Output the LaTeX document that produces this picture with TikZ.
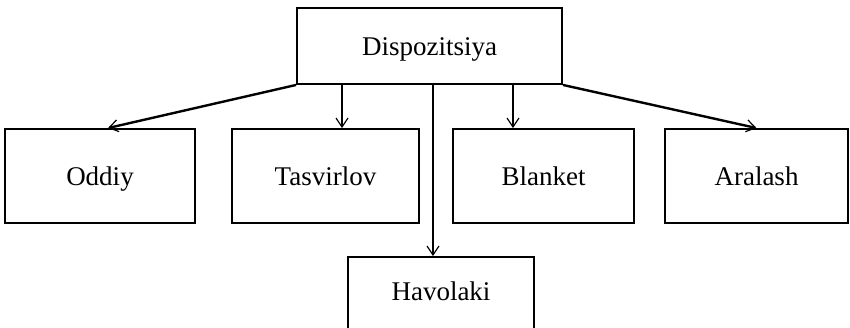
\documentclass[tikz,border=0pt]{standalone}
\usepackage{fontspec}
\setmainfont{Liberation Serif}
\usetikzlibrary{arrows.meta,calc}
\tikzset{
  box/.style={draw, line width=1.9pt, rectangle, inner sep=0pt, text height=20pt, text depth=2pt, font=\fontsize{27}{31}\selectfont},
  arr/.style={-{Straight Barb[length=9pt,width=12pt,line width=1.2pt]}},
  thinln/.style={line width=1.6pt},
  thickln/.style={line width=2.4pt}
}
\begin{document}
\begin{tikzpicture}[x=1pt,y=-1pt]
\useasboundingbox (0,0) rectangle (850,327);
\clip (0,0) rectangle (850,327);
\node[box, minimum width=265pt, minimum height=76pt] (top) at (429.5,46) {Dispozitsiya};
\node[box, minimum width=190pt, minimum height=94pt] (oddiy) at (100,176) {Oddiy};
\node[box, minimum width=187pt, minimum height=94pt] (tasv) at (325.5,176) {Tasvirlov};
\node[box, minimum width=181pt, minimum height=94pt] (blank) at (543.5,176) {Blanket};
\node[box, minimum width=183pt, minimum height=94pt] (aral) at (756.5,176) {Aralash};
\node[box, minimum width=186pt, minimum height=76pt, text depth=10pt] (hav) at (441,295) {Havolaki};
\coordinate (ta) at ([xshift=16.5pt]tasv.north);
\coordinate (ba) at ([xshift=-30.5pt]blank.north);
\coordinate (ha) at ([xshift=-8pt]hav.north);
\coordinate (oa) at ([xshift=8pt]oddiy.north);
\draw[thickln, arr] (top.south west) -- (oa);
\draw[thinln, arr] (top.south -| ta) -- (ta);
\draw[thinln, arr] (top.south -| ha) -- (ha);
\draw[thinln, arr] (top.south -| ba) -- (ba);
\draw[thickln, arr] (top.south east) -- (aral.north);
\end{tikzpicture}
\end{document}
